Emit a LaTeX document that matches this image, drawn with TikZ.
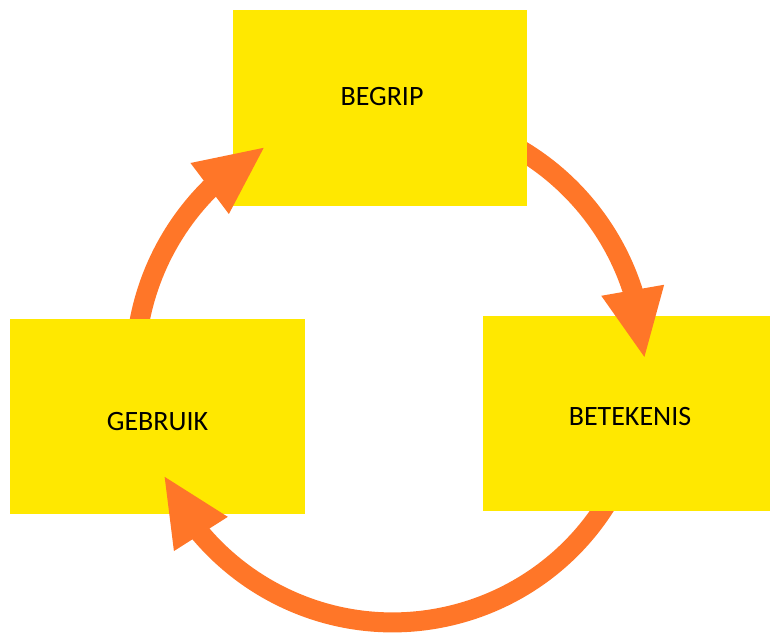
\documentclass[tikz,border=0pt]{standalone}
\usepackage{fontspec}
\setmainfont{Carlito}
\usepackage{tikz}
\usetikzlibrary{calc}
\usetikzlibrary{arrows.meta}
\usetikzlibrary{bending}
\usetikzlibrary{positioning}
\definecolor{boxyellow}{HTML}{FFE800}
\definecolor{arroworange}{HTML}{FF7628}
\tikzstyle{blok} = [rectangle, fill=boxyellow, draw=none, inner sep=0pt]
\tikzstyle{woord} = [draw=none, font=\fontsize{28}{32}\selectfont]
\tikzstyle{kring} = [line width=20pt, draw=arroworange, -{Triangle[length=70pt, width=58pt, flex']}]

\begin{document}
\begin{tikzpicture}[x=1pt, y=1pt]
\useasboundingbox (0,0) rectangle (770,634);
\node [blok, minimum width=294pt, minimum height=196pt] (B) at (380, 526) {};
\node [blok, minimum width=287pt, minimum height=195pt] (T) at (626.5, 220.5) {};
\node [blok, minimum width=295pt, minimum height=195pt] (G) at (157.5, 217.5) {};
\node [woord] (Btxt) at ($(B.center)+(2,11)$) {BEGRIP};
\node [woord] (Ttxt) at ($(T.center)+(3.5,-3.5)$) {BETEKENIS};
\node [woord] (Gtxt) at ($(G.center)+(0,-5.5)$) {GEBRUIK};
\coordinate (M) at (390, 265);
% each arrow starts inside its box, cut off at the box edge
\begin{scope}[even odd rule]
\clip (0,0) rectangle (770,634) (B.south west) rectangle (B.north east);
\draw [kring] ($(M)+(64:255)$) arc [start angle=64, end angle=2.2, radius=255];
\end{scope}
\begin{scope}[even odd rule]
\clip (0,0) rectangle (770,634) (T.south west) rectangle (T.north east);
\draw [kring] ($(M)+(-27:255)$) arc [start angle=-27, end angle=-155.5, radius=252];
\end{scope}
\begin{scope}[even odd rule]
\clip (0,0) rectangle (770,634) (G.south west) rectangle (G.north east);
\draw [kring] ($(M)+(175:255)$) arc [start angle=175, end angle=119.2, radius=255];
\end{scope}
\end{tikzpicture}
\end{document}
